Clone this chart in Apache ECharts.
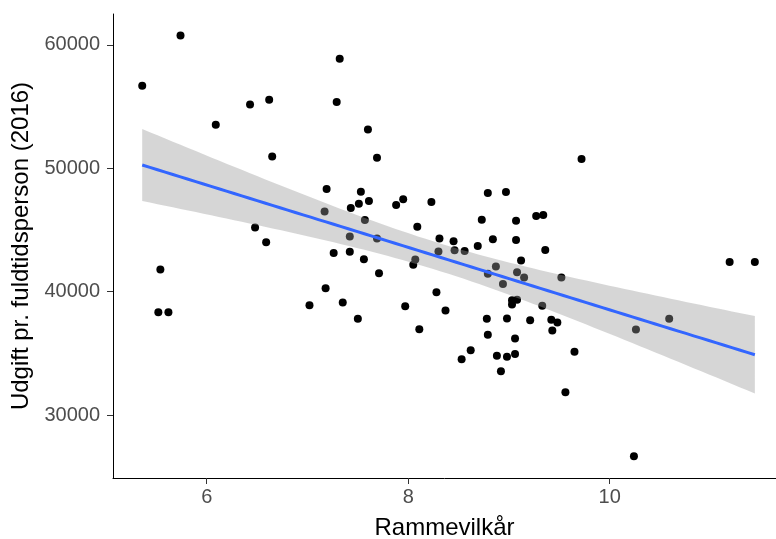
<!DOCTYPE html>
<html>
<head>
<meta charset="utf-8">
<script src="https://cdn.jsdelivr.net/npm/echarts@6/dist/echarts.min.js"></script>
<style>
  html, body { margin: 0; padding: 0; background: #fff; }
  #main { width: 776px; height: 539px; }
</style>
</head>
<body>
<div id="main"></div>
<script>
// Rammevilkår (x) and udgift pr. fuldtidsperson 2016 (y)
var rammevilkaar = [
  5.36, 5.74, 7.32, 6.43, 6.62, 7.29, 6.09, 7.60, 6.65, 7.69,
  7.19, 7.53, 7.51, 7.61, 7.43, 7.88, 7.95, 8.23, 7.17, 7.57,
  8.09, 6.48, 6.59, 7.42, 7.69, 8.31, 5.54, 5.52, 5.62, 7.26,
  7.42, 7.56, 7.71, 7.18, 7.02, 7.35, 7.50, 7.97, 8.11, 8.05,
  8.07, 8.28, 8.30, 8.45, 8.46, 9.72, 8.79, 8.97, 8.73, 9.07,
  9.27, 9.34, 8.69, 8.84, 9.07, 9.36, 8.56, 9.12, 8.87, 8.79,
  8.94, 9.08, 9.15, 9.52, 9.03, 9.08, 9.03, 9.33, 8.78, 8.98,
  9.21, 9.42, 9.48, 9.43, 8.79, 9.06, 8.62, 8.53, 8.88, 8.98,
  9.06, 9.65, 8.92, 9.56, 11.19, 11.44, 8.37, 10.26, 10.59, 10.24
];
var udgift = [
  56680, 60750, 58870, 55170, 55550, 55360, 53520, 53140, 50960, 50850,
  48320, 48100, 47130, 47350, 46780, 47030, 47480, 47270, 46490, 45810,
  45270, 45190, 44000, 44460, 44300, 44300, 41790, 38340, 38340, 43140,
  43240, 42620, 41490, 40270, 38900, 39120, 37800, 38820, 36960, 42190,
  42600, 39960, 43260, 44080, 43350, 50750, 47990, 48070, 45830, 45750,
  46130, 46210, 43710, 44240, 44190, 43380, 43300, 42520, 42030, 41460,
  40630, 41570, 41140, 41140, 39310, 39350, 38960, 38850, 37800, 37830,
  37690, 37720, 37500, 36860, 36510, 36210, 35260, 34530, 34810, 34730,
  34940, 35130, 33560, 31840, 42410, 42410, 38470, 36940, 37800, 26660
];
var xTicks = [6, 8, 10];
var yTicks = [30000, 40000, 50000, 60000];

// linear fit with 95% confidence band (like geom_smooth(method = "lm"))
var n = rammevilkaar.length;
var mx = 0, my = 0;
for (var i = 0; i < n; i++) { mx += rammevilkaar[i]; my += udgift[i]; }
mx /= n; my /= n;
var sxx = 0, sxy = 0;
for (var i = 0; i < n; i++) {
  sxx += (rammevilkaar[i] - mx) * (rammevilkaar[i] - mx);
  sxy += (rammevilkaar[i] - mx) * (udgift[i] - my);
}
var b = sxy / sxx, a = my - b * mx;
var sse = 0;
for (var i = 0; i < n; i++) {
  var r = udgift[i] - (a + b * rammevilkaar[i]);
  sse += r * r;
}
var s = Math.sqrt(sse / (n - 2));
var tq = 1.987;
var xLo = Math.min.apply(null, rammevilkaar), xHi = Math.max.apply(null, rammevilkaar);
var fit = [], band = [];
for (var k = 0; k <= 80; k++) {
  var x = xLo + (xHi - xLo) * k / 80;
  var yh = a + b * x;
  var se = s * Math.sqrt(1 / n + (x - mx) * (x - mx) / sxx);
  fit.push([x, yh]);
  band.push([x, yh - tq * se, yh + tq * se]);
}

var points = rammevilkaar.map(function (v, i) { return [v, udgift[i]]; });

var chart = echarts.init(document.getElementById('main'));
var font = 'Liberation Sans, Arial, sans-serif';
chart.setOption({
  animation: false,
  grid: { left: 113, top: 14, width: 663, height: 464, outerBoundsMode: 'none' },
  xAxis: {
    type: 'value', min: 5.07, max: 11.65,
    name: 'Rammevilkår', nameLocation: 'middle', nameGap: 38,
    nameTextStyle: { fontSize: 24, color: '#000', fontFamily: font },
    axisLine: { lineStyle: { color: '#000', width: 1 } },
    axisTick: { show: true, length: 6, customValues: xTicks, lineStyle: { color: '#333' } },
    axisLabel: { customValues: xTicks, fontSize: 20, color: '#4d4d4d', margin: 9, fontFamily: font },
    splitLine: { show: false }
  },
  yAxis: {
    type: 'value', min: 24900, max: 62500,
    name: 'Udgift pr. fuldtidsperson (2016)', nameLocation: 'middle', nameGap: 78,
    nameTextStyle: { fontSize: 24, color: '#000', fontFamily: font },
    axisLine: { show: true, lineStyle: { color: '#000', width: 1 } },
    axisTick: { show: true, length: 6, customValues: yTicks, lineStyle: { color: '#333' } },
    axisLabel: {
      customValues: yTicks, fontSize: 20, color: '#4d4d4d', margin: 13, fontFamily: font,
      formatter: function (v) { return String(v); }
    },
    splitLine: { show: false }
  },
  series: [
    {
      type: 'scatter', data: points, symbolSize: 8,
      itemStyle: { color: '#000', opacity: 1 }, z: 1
    },
    {
      type: 'custom', data: band, z: 2, silent: true,
      encode: { x: 0, y: [1, 2] },
      renderItem: function (params, api) {
        if (params.dataIndex !== 0) return;
        var pts = [];
        for (var j = 0; j < band.length; j++) pts.push(api.coord([band[j][0], band[j][2]]));
        for (var j = band.length - 1; j >= 0; j--) pts.push(api.coord([band[j][0], band[j][1]]));
        return {
          type: 'polygon',
          shape: { points: pts },
          style: { fill: 'rgba(153,153,153,0.4)', stroke: null }
        };
      }
    },
    {
      type: 'line', data: fit, symbol: 'none',
      lineStyle: { color: '#3366FF', width: 3 }, z: 3
    }
  ]
});
</script>
</body>
</html>
